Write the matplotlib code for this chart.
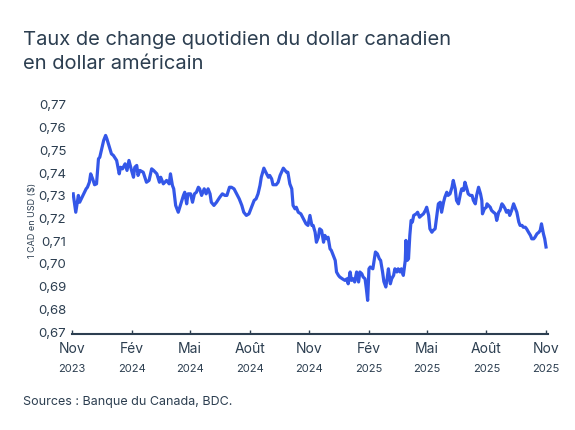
import pandas as pd
import numpy as np
import matplotlib.pyplot as plt
import matplotlib.dates as mdates

# Données : jours depuis le 1er nov. 2023 et taux CAD->USD
start = pd.Timestamp('2023-11-01')
jours = [2, 6, 10, 12, 17, 22, 24, 27, 29, 32, 35, 38, 41, 43, 46, 49, 52, 54, 58, 61,
         64, 69, 73, 75, 78, 82, 85, 88, 92, 95, 97, 100, 102, 105, 110, 115, 119, 123, 126, 131,
         135, 137, 141, 146, 150, 152, 155, 157, 160, 164, 168, 172, 174, 177, 179, 183, 186, 189, 192, 195,
         197, 200, 204, 207, 210, 213, 215, 219, 223, 228, 232, 236, 239, 243, 246, 250, 254, 258, 262, 265,
         269, 273, 277, 281, 284, 287, 290, 292, 296, 299, 303, 305, 308, 310, 315, 318, 321, 326, 331, 333,
         336, 339, 341, 344, 346, 349, 353, 357, 361, 364, 367, 370, 372, 375, 377, 380, 382, 385, 388, 390,
         393, 395, 398, 400, 403, 406, 408, 411, 413, 417, 421, 424, 426, 429, 431, 434, 436, 439, 442, 444,
         447, 449, 452, 454, 456, 458, 460, 464, 466, 468, 471, 474, 476, 479, 481, 484, 486, 488, 491, 493,
         496, 498, 501, 503, 506, 508, 511, 514, 515, 517, 519, 521, 523, 525, 527, 531, 533, 536, 539, 542,
         545, 547, 550, 552, 555, 557, 560, 562, 565, 568, 570, 573, 575, 578, 580, 583, 586, 588, 591, 593,
         596, 599, 601, 604, 606, 609, 611, 614, 617, 619, 622, 624, 627, 630, 632, 633, 636, 639, 640, 645,
         647, 650, 653, 655, 658, 660, 663, 665, 668, 670, 673, 675, 678, 681, 683, 686, 689, 691, 694, 696,
         699, 701, 704, 707, 709, 712, 714, 717, 720, 722, 724, 727, 729, 731]
taux = [0.7304, 0.7223, 0.7297, 0.7267, 0.7297, 0.7326, 0.7333, 0.7355, 0.7392, 0.7370,
        0.7344, 0.7348, 0.7458, 0.7465, 0.7502, 0.7539, 0.7561, 0.7546, 0.7509, 0.7480,
        0.7473, 0.7451, 0.7392, 0.7421, 0.7414, 0.7436, 0.7407, 0.7451, 0.7407, 0.7377,
        0.7421, 0.7429, 0.7385, 0.7407, 0.7399, 0.7355, 0.7363, 0.7414, 0.7407, 0.7392,
        0.7355, 0.7377, 0.7348, 0.7363, 0.7348, 0.7392, 0.7341, 0.7326, 0.7253, 0.7223,
        0.7260, 0.7297, 0.7311, 0.7260, 0.7304, 0.7304, 0.7267, 0.7304, 0.7311, 0.7333,
        0.7326, 0.7297, 0.7326, 0.7304, 0.7326, 0.7304, 0.7267, 0.7253, 0.7267, 0.7289,
        0.7304, 0.7297, 0.7297, 0.7333, 0.7333, 0.7326, 0.7304, 0.7282, 0.7253, 0.7223,
        0.7209, 0.7216, 0.7245, 0.7275, 0.7282, 0.7304, 0.7341, 0.7377, 0.7417, 0.7399,
        0.7377, 0.7385, 0.7370, 0.7344, 0.7344, 0.7355, 0.7385, 0.7417, 0.7399, 0.7399,
        0.7348, 0.7326, 0.7253, 0.7238, 0.7245, 0.7223, 0.7216, 0.7194, 0.7172, 0.7165,
        0.7209, 0.7165, 0.7165, 0.7135, 0.7091, 0.7113, 0.7150, 0.7143, 0.7091, 0.7121,
        0.7106, 0.7113, 0.7062, 0.7055, 0.7033, 0.7011, 0.6960, 0.6945, 0.6938, 0.6930,
        0.6923, 0.6930, 0.6908, 0.6960, 0.6923, 0.6930, 0.6916, 0.6960, 0.6916, 0.6960,
        0.6952, 0.6938, 0.6930, 0.6886, 0.6835, 0.6974, 0.6982, 0.6974, 0.7011, 0.7048,
        0.7040, 0.7018, 0.7011, 0.6960, 0.6918, 0.6894, 0.6930, 0.6974, 0.6908, 0.6930,
        0.6945, 0.6974, 0.6960, 0.6974, 0.6960, 0.6974, 0.6945, 0.7011, 0.7099, 0.7011,
        0.7018, 0.7121, 0.7187, 0.7180, 0.7209, 0.7216, 0.7223, 0.7201, 0.7209, 0.7216,
        0.7231, 0.7245, 0.7209, 0.7150, 0.7135, 0.7143, 0.7150, 0.7194, 0.7260, 0.7267,
        0.7223, 0.7267, 0.7289, 0.7311, 0.7297, 0.7304, 0.7333, 0.7363, 0.7326, 0.7275,
        0.7260, 0.7304, 0.7326, 0.7319, 0.7355, 0.7326, 0.7304, 0.7297, 0.7297, 0.7275,
        0.7260, 0.7297, 0.7333, 0.7304, 0.7275, 0.7216, 0.7238, 0.7245, 0.7260, 0.7245,
        0.7231, 0.7223, 0.7216, 0.7187, 0.7223, 0.7231, 0.7260, 0.7253, 0.7238, 0.7223,
        0.7231, 0.7209, 0.7231, 0.7260, 0.7245, 0.7223, 0.7180, 0.7165, 0.7165, 0.7157,
        0.7157, 0.7150, 0.7135, 0.7121, 0.7106, 0.7106, 0.7113, 0.7128, 0.7135, 0.7143,
        0.7172, 0.7128, 0.7106, 0.7070]

mois_ticks = ['2023-11-01', '2024-02-01', '2024-05-01', '2024-08-01', '2024-11-01',
              '2025-02-01', '2025-05-01', '2025-08-01', '2025-11-01']
mois_labels = ['Nov', 'Fév', 'Mai', 'Août', 'Nov', 'Fév', 'Mai', 'Août', 'Nov']
annee_labels = ['2023', '2024', '2024', '2024', '2024', '2025', '2025', '2025', '2025']
y_ticks = [0.67, 0.68, 0.69, 0.70, 0.71, 0.72, 0.73, 0.74, 0.75, 0.76, 0.77]

dates = start + pd.to_timedelta(jours, unit='D')

plt.rcParams['font.family'] = ['Inter', 'DejaVu Sans']
txt = '#2c3e50'
bleu = '#3457e8'

fig = plt.figure(figsize=(5.75, 4.31), dpi=100)
ax = fig.add_axes([0.125, 0.2227, 0.828, 0.534])
ax.plot(dates, taux, color=bleu, lw=2.3, solid_joinstyle='round')

# l'axe du bas est légèrement sous 0,67 dans l'original
ax.set_ylim(0.6687, 0.77)
ax.set_xlim(pd.Timestamp('2023-11-01'), pd.Timestamp('2025-11-04'))
ax.set_yticks(y_ticks)
ax.set_yticklabels([f'{v:.2f}'.replace('.', ',') for v in y_ticks], fontsize=9.5, color=txt)
ax.tick_params(axis='y', length=0, pad=4)

xt = pd.to_datetime(mois_ticks)
ax.set_xticks(xt)
ax.set_xticklabels(mois_labels, fontsize=10, color=txt)
ax.tick_params(axis='x', direction='in', length=3, width=1, color=txt, pad=5)
for d, a in zip(xt, annee_labels):
    ax.text(d, -0.125, a, transform=ax.get_xaxis_transform(), ha='center', va='top',
            fontsize=8, color=txt)

for s in ['top', 'right', 'left']:
    ax.spines[s].set_visible(False)
ax.spines['bottom'].set_color(txt)
ax.spines['bottom'].set_linewidth(1.5)

ax.set_ylabel('1 CAD en USD ($)', fontsize=6.5, color=txt, labelpad=1)

fig.text(0.04, 0.88, 'Taux de change quotidien du dollar canadien\nen dollar américain',
         fontsize=14.5, color=txt, ha='left', va='center', linespacing=1.45)
fig.text(0.04, 0.067, 'Sources : Banque du Canada, BDC.', fontsize=9, color=txt,
         ha='left', va='center')

fig.savefig('out.png', dpi=100)
